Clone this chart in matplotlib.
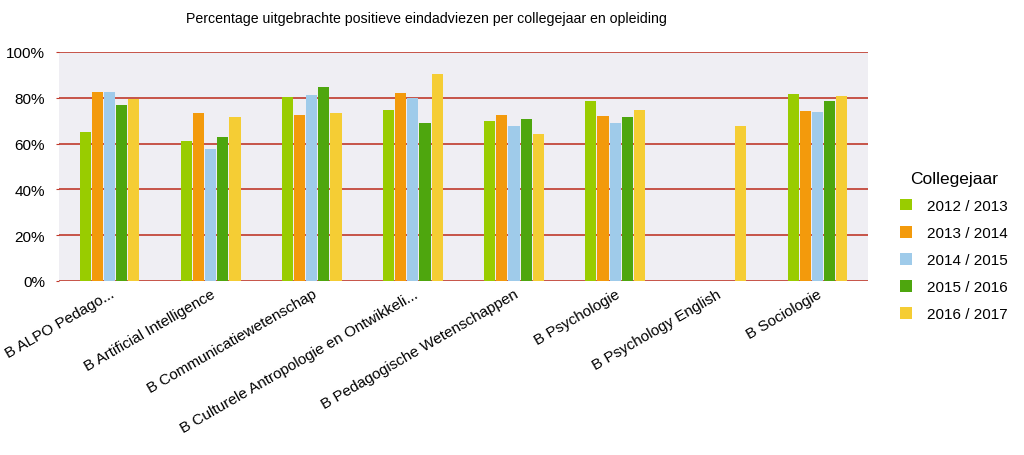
import matplotlib.pyplot as plt
import numpy as np

plt.rcParams['font.family'] = ['Liberation Sans', 'DejaVu Sans']

opleidingen = ["B ALPO Pedago...", "B Artificial Intelligence", "B Communicatiewetenschap",
               "B Culturele Antropologie en Ontwikkeli...", "B Pedagogische Wetenschappen",
               "B Psychologie", "B Psychology English", "B Sociologie"]
jaren = ["2012 / 2013", "2013 / 2014", "2014 / 2015", "2015 / 2016", "2016 / 2017"]

# percentage positieve eindadviezen per jaar (NaN = geen data)
v_2012 = [64.9, 61.1, 80.2, 74.7, 69.9, 78.6, np.nan, 81.7]
v_2013 = [82.4, 73.4, 72.6, 82.2, 72.3, 71.9, np.nan, 74.4]
v_2014 = [82.7, 57.8, 81.2, 79.8, 67.5, 69.0, np.nan, 73.7]
v_2015 = [77.0, 63.0, 84.6, 68.9, 70.9, 71.5, np.nan, 78.7]
v_2016 = [79.5, 71.5, 73.4, 90.5, 64.2, 74.8, 67.7, 80.9]
series = [v_2012, v_2013, v_2014, v_2015, v_2016]

colors = ["#99cc00", "#f39a0c", "#9fcbea", "#4ea60e", "#f5cd34"]

fig = plt.figure(figsize=(10.24, 4.56), dpi=100)
ax = fig.add_axes([0.0576, 0.3816, 0.79, 0.5022])
ax.set_facecolor("#efeef3")

x = np.arange(len(opleidingen))
w = 0.12
for i, (vals, c, lab) in enumerate(zip(series, colors, jaren)):
    ax.bar(x + (i - 2) * w, vals, width=w * 0.92, color=c, label=lab, zorder=3)

ax.set_xlim(-0.5, len(opleidingen) - 0.5)
ax.set_ylim(0, 100)
ax.set_yticks(np.arange(0, 101, 20))
ax.set_yticklabels([f"{v}%" for v in range(0, 101, 20)], fontsize=11)
ax.grid(axis='y', color="#c0392b", linewidth=1.2, zorder=1)
ax.tick_params(axis='y', length=2, color="#c0392b", pad=8)
ax.tick_params(axis='x', length=0, pad=4)
ax.set_xticks(x)
ax.set_xticklabels(opleidingen, rotation=30, ha='right', va='top',
                   rotation_mode='anchor', fontsize=11)
for s in ax.spines.values():
    s.set_visible(False)

fig.text(0.416, 0.958, "Percentage uitgebrachte positieve eindadviezen per collegejaar en opleiding",
         fontsize=10.2, ha='center', va='center')

leg = fig.legend(loc='center left', bbox_to_anchor=(0.865, 0.458), frameon=False,
                 title="Collegejaar", fontsize=11, title_fontsize=12.5,
                 handlelength=0.8, handleheight=0.8, labelspacing=0.85, handletextpad=1.0)

fig.savefig("out.png", dpi=100)
